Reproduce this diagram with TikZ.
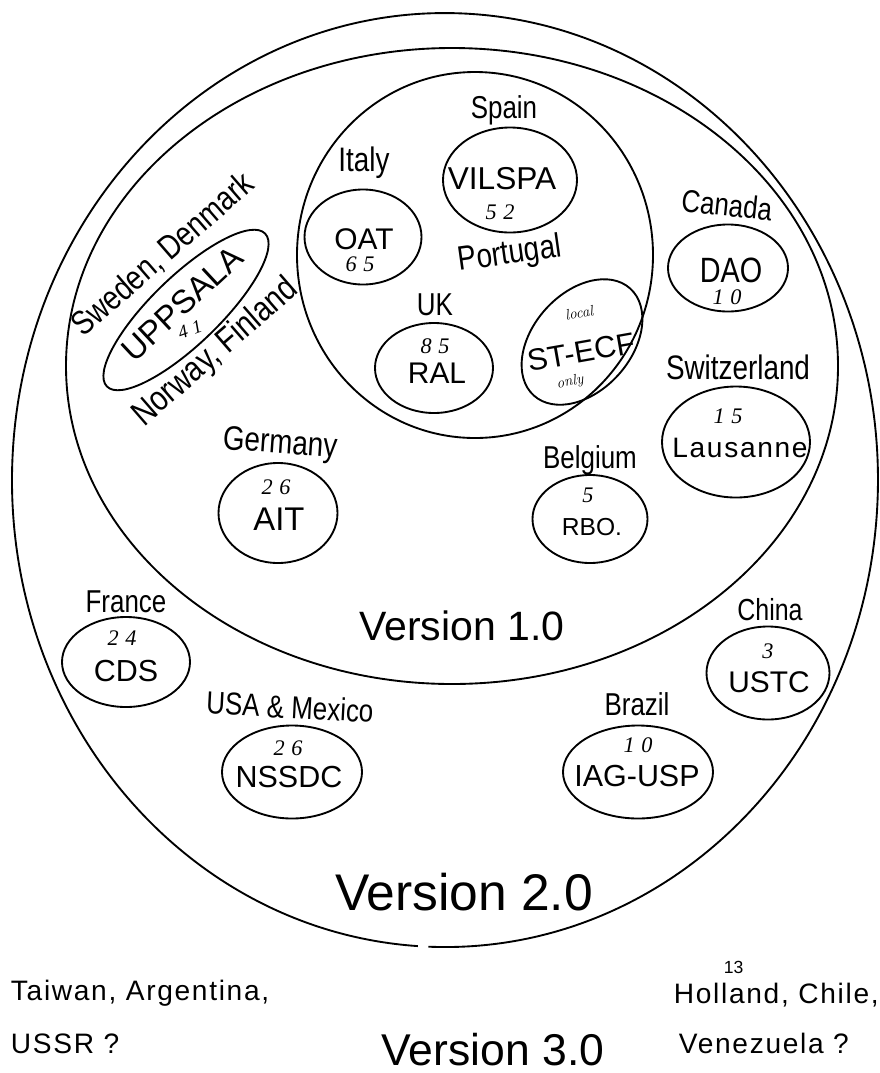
\documentclass[tikz,border=0pt]{standalone}
\usepackage{fontspec}
\setsansfont{Liberation Sans}
\newfontfamily\handfont[FakeStretch=0.82]{Liberation Sans}
\newfontfamily\widefont[LetterSpace=6]{Liberation Sans}
\newfontfamily\numfont[LetterSpace=30]{Liberation Serif}
\usetikzlibrary{shapes.geometric, positioning}

\begin{document}
\begin{tikzpicture}[x=0.3mm, y=-0.3mm, line width=1.6pt,
  site/.style 2 args={draw, ellipse, inner sep=0pt, minimum width=#1, minimum height=#2},
  cntry/.style={font=\handfont\fontsize{#1}{#1}\selectfont, inner sep=0pt},
  cntry/.default=27,
  sitename/.style={font=\sffamily\fontsize{#1}{#1}\selectfont, inner sep=0pt},
  sitename/.default=26,
  num/.style={font=\numfont\itshape\fontsize{19}{19}\selectfont, inner sep=0pt},
  note/.style={font=\rmfamily\itshape\fontsize{13}{13}\selectfont, inner sep=0pt},
  version/.style={font=\sffamily\fontsize{#1}{#1}\selectfont, inner sep=0pt, anchor=base},
  other/.style={font=\widefont\fontsize{24}{24}\selectfont, inner sep=0pt, anchor=base west}]
\useasboundingbox (0,0) rectangle (880,1073);

% rings: version 2.0, version 1.0, core
\draw (417.8,946.1) arc[start angle=93.6, end angle=452.2, x radius=433, y radius=467];
\draw (452,366) ellipse [x radius=386, y radius=318];
\draw (475,255) ellipse [x radius=178, y radius=183];

% core sites
\node[site={40.2mm}{31.5mm}] (vilspa) at (510,180) {};
\node[sitename=27] (vilspa-t) at (502,179) {VILSPA};
\node[num] (vilspa-n) at (500,212) {52};
\node[cntry] (spain) at (504,110) {Spain};

\node[site={35.1mm}{28.5mm}] (oat) at (363,237) {};
\node[sitename=25.5] (oat-t) at (364,239) {OAT};
\node[num] (oat-n) at (360,264) {65};
\node[cntry=29] (italy) at (364,163) {Italy};

\node[cntry=29, rotate=8] (portugal) at (510,255) {Portugal};

\node[site={35.4mm}{27mm}] (ral) at (434,368) {};
\node[num] (ral-n) at (435,346) {85};
\node[sitename=25.5] (ral-t) at (437,373) {RAL};
\node[cntry] (uk) at (435,305) {UK};

\node[site={43.2mm}{29.4mm}, rotate=48] (stecf) at (582,342) {};
\node[sitename=26, rotate=10] (stecf-t) at (581,352) {ST-ECF};
\node[note, rotate=10] (stecf-a) at (579,313) {local};
\node[note, rotate=10] (stecf-b) at (570,382) {only};

% version 1.0 sites
\node[site={66mm}{20.4mm}, rotate=44] (uppsala) at (186,310) {};
\node[sitename=28, rotate=43] (uppsala-t) at (182,304) {UPPSALA};
\node[num, font=\numfont\itshape\fontsize{16}{16}\selectfont, rotate=20] (uppsala-n) at (190,330) {41};
\node[cntry=29, rotate=41] (sweden) at (163,255) {Sweden, Denmark};
\node[cntry=30, rotate=41] (norway) at (216,353) {Norway, Finland};

\node[site={36mm}{26.1mm}] (dao) at (728,268) {};
\node[cntry=30] (dao-t) at (731,270) {DAO};
\node[num] (dao-n) at (727,297) {10};
\node[cntry, rotate=-6] (canada) at (727,205) {Canada};

\node[site={44.4mm}{33.3mm}] (lausanne) at (736,442) {};
\node[num] (lausanne-n) at (728,416) {15};
\node[sitename, font=\widefont\fontsize{24}{24}\selectfont] (lausanne-t) at (740,448) {Lausanne};
\node[cntry=29] (switz) at (738,367) {Switzerland};

\node[site={34.5mm}{26.4mm}] (rbo) at (590,519) {};
\node[num] (rbo-n) at (588,495) {5};
\node[sitename=21] (rbo-t) at (592,527) {RBO.};
\node[cntry] (belgium) at (590,460) {Belgium};

\node[site={35.7mm}{30mm}] (ait) at (278,513) {};
\node[num] (ait-n) at (276,487) {26};
\node[sitename=28] (ait-t) at (279,519) {AIT};
\node[cntry=29, rotate=-4] (germany) at (280,445) {Germany};

\node[version=35] (v1) at (462,640) {Version 1.0};

% version 2.0 sites
\node[site={38.4mm}{27mm}] (cds) at (126,662) {};
\node[num] (cds-n) at (122,638) {24};
\node[sitename] (cds-t) at (126,671) {CDS};
\node[cntry] (france) at (126,602) {France};

\node[site={42mm}{27.9mm}] (nssdc) at (292,772) {};
\node[num] (nssdc-n) at (288,748) {26};
\node[sitename] (nssdc-t) at (289,777) {NSSDC};
\node[cntry, rotate=-3] (usa) at (290,707) {USA \& Mexico};

\node[site={45mm}{27.9mm}] (iag) at (638,772) {};
\node[num] (iag-n) at (638,745) {10};
\node[sitename] (iag-t) at (637,776) {IAG-USP};
\node[cntry] (brazil) at (637,704) {Brazil};

\node[site={36.9mm}{27.9mm}] (ustc) at (768,673) {};
\node[num] (ustc-n) at (768,651) {3};
\node[sitename=25.5] (ustc-t) at (769,682) {USTC};
\node[cntry=26] (china) at (770,610) {China};

\node[version=44] (v2) at (464,910) {Version 2.0};

% version 3.0
\node[other] (taiwan) at (10,1000) {Taiwan, Argentina,};
\node[other] (ussr) at (10,1053) {USSR ?};
\node[font=\sffamily\fontsize{15}{15}\selectfont, inner sep=0pt, anchor=base west] (thirteen) at (723,973) {13};
\node[other] (holland) at (673,1003) {Holland, Chile,};
\node[other] (venezuela) at (678,1053) {Venezuela ?};
\node[version=38] (v3) at (493,1065) {Version 3.0};
\end{tikzpicture}
\end{document}
